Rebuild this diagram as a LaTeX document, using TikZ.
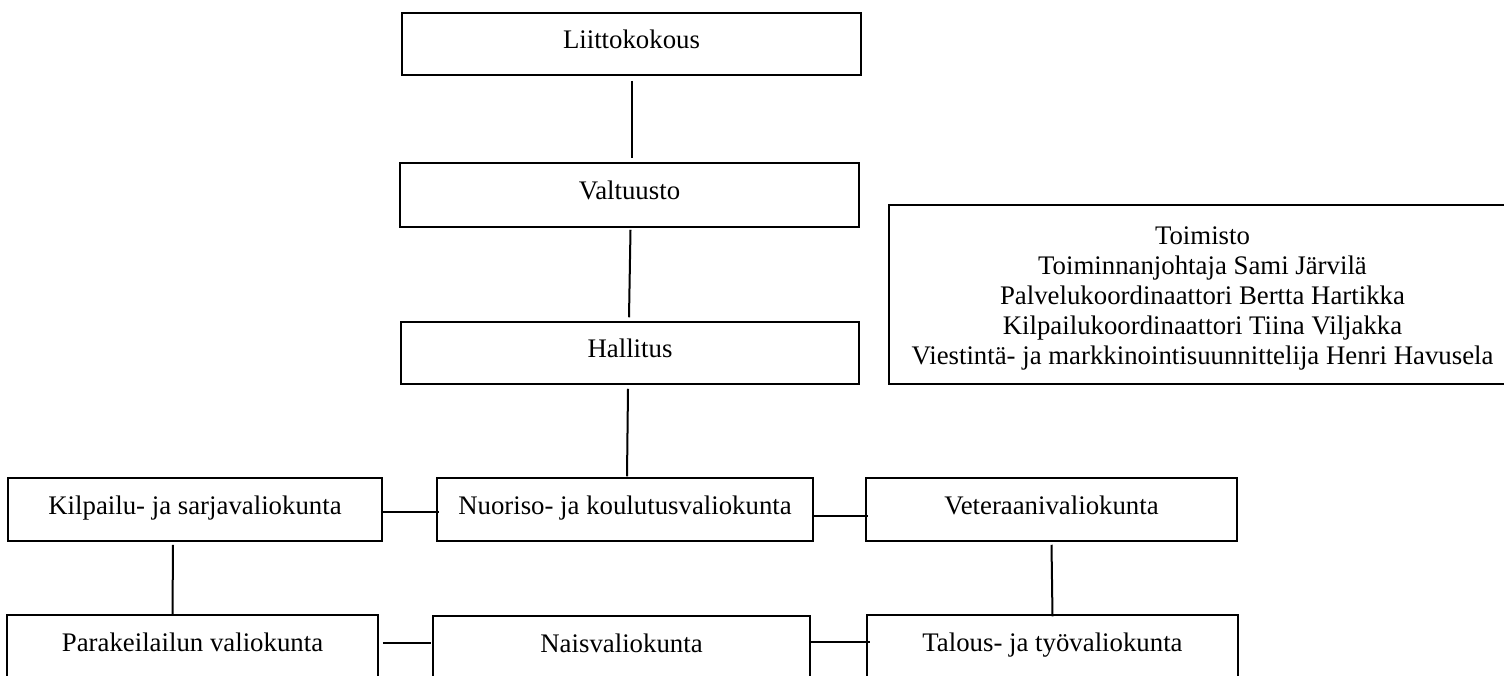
\documentclass[tikz,border=0pt]{standalone}
\usepackage{fontspec}
\setmainfont{Liberation Serif}
\usetikzlibrary{calc,positioning}

\begin{document}
\begin{tikzpicture}[x=0.5pt, y=-0.5pt,
    every node/.style={inner sep=2pt, font=\fontsize{13.4}{15}\selectfont},
    box/.style={draw, line width=0.75pt, minimum height=31.5pt,
        text height=13pt, text depth=8.5pt},
    link/.style={line width=1pt} ]

    \useasboundingbox (0,0) rectangle (1504,675);

    % Main chain.
    \node[box, minimum width=229.5pt, minimum height=31pt] (liitto) at (631.5,44) {Liittokokous};
    \node[box, minimum width=229.5pt, minimum height=32pt] (valt) at (629.5,195) {Valtuusto};
    \node[box, minimum width=229pt, minimum height=31pt] (hall) at (630,353) {Hallitus};

    % Office staff (box runs past the right edge).
    \node[draw, line width=0.75pt, minimum width=313.5pt, minimum height=89.5pt]
        (toim) at (1202.5,294.5) {\raisebox{-5.8pt}[0pt][0pt]{\begin{tabular}{@{}c@{}}
        Toimisto\\ Toiminnanjohtaja Sami Järvilä\\
        Palvelukoordinaattori Bertta Hartikka\\ Kilpailukoordinaattori Tiina Viljakka\\
        Viestintä- ja markkinointisuunnittelija Henri Havusela\end{tabular}}};

    % Committees, first row.
    \node[box, minimum width=187pt] (kilp) at (195,509.5) {Kilpailu- ja sarjavaliokunta};
    \node[box, minimum width=188pt] (nuor) at (625,509.5) {Nuoriso- ja koulutusvaliokunta};
    \node[box, minimum width=185.5pt] (vete) at (1051.5,509.5) {Veteraanivaliokunta};

    % Committees, second row.
    \node[box, minimum width=185.5pt] (para) at (192.5,646.5) {Parakeilailun valiokunta};
    \node[box, minimum width=188.5pt] (nais) at (621.5,647.5) {Naisvaliokunta};
    \node[box, minimum width=185.5pt] (talo) at (1052.5,646.5) {Talous- ja työvaliokunta};

    % Vertical links.
    \draw[link] ([yshift=-2.5pt]liitto.south) -- ([xshift=1pt,yshift=2pt]valt.north);
    \draw[link] ([xshift=0.5pt,yshift=-1pt]valt.south) -- ([xshift=-0.5pt,yshift=2pt]hall.north);
    \draw[link] ([xshift=-1pt,yshift=-2pt]hall.south) -- ([xshift=1pt,yshift=0.5pt]nuor.north);
    \draw[link] ([xshift=-11pt,yshift=-1.5pt]kilp.south) -- ([xshift=-10pt]para.north);
    \draw[link] ([yshift=-1.5pt]vete.south) -- ([yshift=-1pt]talo.north);

    % Horizontal links.
    \draw[link] ([xshift=-1pt,yshift=-1.25pt]kilp.east) -- ([xshift=1.5pt,yshift=-1.25pt]nuor.west);
    \draw[link] ([yshift=-3.25pt]nuor.east) -- ([xshift=1.5pt,yshift=-3.25pt]vete.west);
    \draw[link] ([xshift=2pt,yshift=1.75pt]para.east) -- ([xshift=-0.5pt,yshift=2.25pt]nais.west);
    \draw[link] ([yshift=2.75pt]nais.east) -- ([xshift=2pt,yshift=2.25pt]talo.west);

\end{tikzpicture}
\end{document}
